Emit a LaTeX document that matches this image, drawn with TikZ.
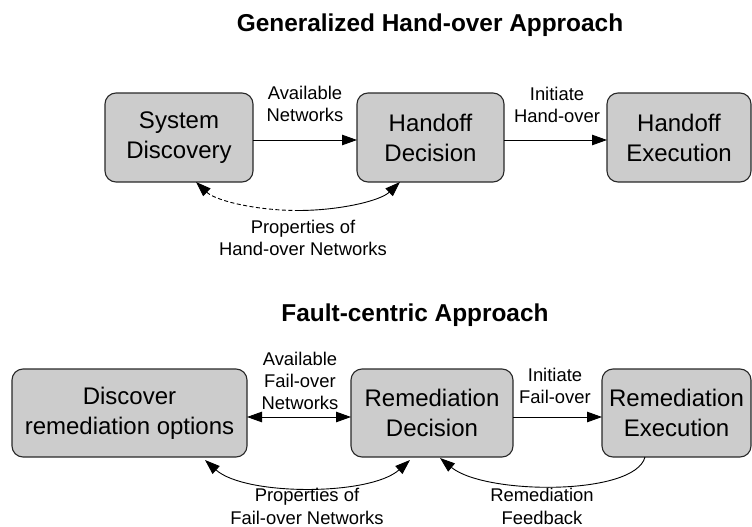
\documentclass[tikz,border=0pt]{standalone}
\usepackage{fontspec}
\setmainfont{Liberation Sans}
\usetikzlibrary{arrows.meta,calc}
\definecolor{boxfill}{RGB}{204,204,204}
\definecolor{boxline}{RGB}{40,40,40}
\begin{document}
\begin{tikzpicture}[x=1pt,y=-1pt,
  >={Triangle[length=15pt,width=10.5pt]},
  stage/.style={draw=boxline,line width=1.1pt,fill=boxfill,rounded corners=11pt,
    inner sep=0pt,outer sep=0pt,align=center,minimum height=89pt,
    font=\fontsize{24}{30}\selectfont},
  heading/.style={anchor=base,inner sep=0pt,font=\fontsize{24.4}{28}\selectfont\bfseries},
  tag/.style={inner sep=0pt,align=center,font=\fontsize{18.4}{22.2}\selectfont},
  flow/.style={line width=0.9pt,draw=black}
]
\useasboundingbox (0,0) rectangle (752,527);

% ---- Generalized hand-over approach ----
\node[heading] (t1) at (430,31.7) {Generalized Hand-over Approach};
\node[stage,minimum width=148pt] (sd) at (179,137.5) {System\\Discovery};
\node[stage,minimum width=147pt] (hd) at (430.5,137.5) {Handoff\\Decision};
\node[stage,minimum width=144pt] (he) at (679,137.5) {Handoff\\Execution};

\draw[flow,->] ([yshift=-2.5pt]sd.east) -- ([yshift=-2.5pt]hd.west);
\draw[flow,->] ([yshift=-2.5pt]hd.east) -- ([yshift=-2.5pt]he.west);
\node[tag] (l1) at (305,104) {Available\\Networks};
\node[tag] (l2) at (557,105) {Initiate\\Hand-over};

% properties link: dashed half from discovery, solid half from decision
\coordinate (tL) at ([xshift=17pt]sd.south);
\coordinate (tR) at ([xshift=-30.5pt]hd.south);
\coordinate (tM) at ($(tL)!0.5!(tR)+(0,28.5)$);
\draw[flow,dash pattern=on 4pt off 2.5pt,<-] (tL) .. controls +(20,19) and +(-41,0) .. (tM);
\draw[flow,->] (tM) .. controls +(41,0) and +(-20,19) .. (tR);
\node[tag] (l3) at (303,238.3) {Properties of\\Hand-over Networks};

% ---- Fault-centric approach ----
\node[heading] (t2) at (415,321) {Fault-centric Approach};
\node[stage,minimum width=235pt,minimum height=88pt] (dro) at (129.5,413) {Discover\\remediation options};
\node[stage,minimum width=162pt,minimum height=88pt] (rd) at (432,413) {Remediation\\Decision};
\node[stage,minimum width=149pt,minimum height=88pt] (re) at (676.5,413) {Remediation\\Execution};

\draw[flow,<->] ([yshift=-4pt]dro.east) -- ([yshift=-4pt]rd.west);
\draw[flow,->] ([yshift=-4pt]rd.east) -- ([yshift=-4pt]re.west);
\node[tag] (l4) at (300,380.8) {Available\\Fail-over\\Networks};
\node[tag] (l5) at (555,385.8) {Initiate\\Fail-over};

\coordinate (bL) at ([xshift=75.5pt,yshift=-3pt]dro.south);
\coordinate (bR) at ([xshift=-22pt,yshift=-3pt]rd.south);
\draw[flow,<->] (bL) .. controls +(40,36) and +(-40,36) .. (bR);
\node[tag] (l6) at (307,506.5) {Properties of\\Fail-over Networks};

\coordinate (fS) at ([xshift=-31.5pt]re.south);
\coordinate (fE) at ([xshift=8pt,yshift=-1pt]rd.south);
\draw[flow,->] (fS) .. controls +(-10,39) and +(45,37) .. (fE);
\node[tag] (l7) at (542,506.5) {Remediation\\Feedback};
\end{tikzpicture}
\end{document}
